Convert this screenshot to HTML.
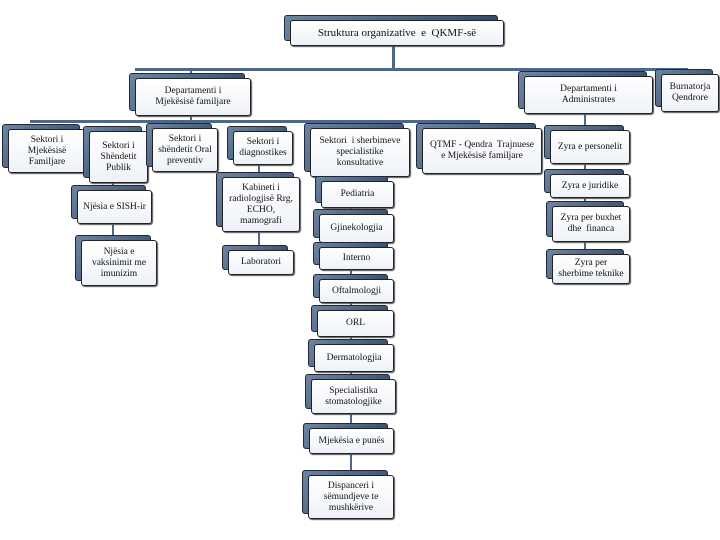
<!DOCTYPE html>
<html><head><meta charset="utf-8"><style>
body{margin:0;width:720px;height:540px;background:#fff;position:relative;overflow:hidden;font-family:"Liberation Serif",serif;}
.b{position:absolute;}
.bk{position:absolute;background:linear-gradient(135deg,#6d84a3,#2e4462);border-radius:3px;border:1px solid #1e2a3a;}
.fr{position:absolute;background:linear-gradient(180deg,#ffffff,#eef2f8);border:1px solid #222;border-radius:3px;box-shadow:1px 1px 1px #555;display:flex;align-items:center;justify-content:center;text-align:center;font-size:9.5px;line-height:11px;color:#111;}
.l{position:absolute;background:#4d6888;}
</style></head><body>
<div class="l" style="left:392px;top:44px;width:3px;height:26px"></div>
<div class="l" style="left:135px;top:68px;width:553px;height:3px"></div>
<div class="l" style="left:190px;top:68px;width:2px;height:10px"></div>
<div class="l" style="left:586px;top:68px;width:2px;height:8px"></div>
<div class="l" style="left:686px;top:68px;width:2px;height:6px"></div>
<div class="l" style="left:190px;top:114px;width:2px;height:8px"></div>
<div class="l" style="left:30px;top:120px;width:450px;height:3px"></div>
<div class="l" style="left:584px;top:112px;width:2px;height:160px"></div>
<div class="l" style="left:112px;top:180px;width:2px;height:60px"></div>
<div class="l" style="left:258px;top:160px;width:2px;height:90px"></div>
<div class="l" style="left:350px;top:175px;width:2px;height:300px"></div>
<div id="c"></div>
<script>
var B=[
[290,20,212,24,"Struktura organizative&nbsp; e&nbsp; QKMF-së",11],
[135,78,114,36,"Departamenti i<br>Mjekësisë familjare"],
[524,76,127,36,"Departamenti i<br>Administrates"],
[661,74,56,36,"Burnatorja<br>Qendrore"],
[8,129,76,42,"Sektori i<br>Mjekësisë<br>Familjare"],
[89,131,57,50,"Sektori i<br>Shëndetit<br>Publik"],
[152,128,64,42,"Sektori i<br>shëndetit Oral<br>preventiv"],
[233,131,58,32,"Sektori i<br>diagnostikes"],
[310,128,98,47,"Sektori&nbsp; i sherbimeve<br>specialistike<br>konsultative"],
[422,128,118,44,"QTMF - Qendra&nbsp; Trajnuese<br>e Mjekësisë familjare"],
[550,130,78,32,"Zyra e personelit"],
[550,174,78,22,"Zyra e juridike"],
[552,206,76,34,"Zyra per buxhet<br>dhe&nbsp; financa"],
[552,254,76,28,"Zyra per<br>sherbime teknike"],
[77,190,73,32,"Njësia e SISH-ir"],
[81,240,74,44,"Njësia e<br>vaksinimit me<br>imunizim"],
[222,177,76,53,"Kabineti i<br>radiologjisë Rrg,<br>ECHO,<br>mamografi"],
[228,250,64,23,"Laboratori"],
[321,181,71,25,"Pediatria"],
[319,214,73,27,"Gjinekologjia"],
[319,247,73,21,"Interno"],
[319,279,73,22,"Oftalmologji"],
[317,310,75,25,"ORL"],
[314,344,78,26,"Dermatologjia"],
[311,379,83,33,"Specialistika<br>stomatologjike"],
[309,428,83,24,"Mjekësia e punës"],
[308,475,84,42,"Dispanceri i<br>sëmundjeve te<br>mushkërive"]];
var h="";
B.forEach(function(b){
h+='<div class="bk" style="left:'+(b[0]-6)+'px;top:'+(b[1]-5)+'px;width:'+(b[2])+'px;height:'+(b[3])+'px"></div>';
h+='<div class="fr" style="left:'+b[0]+'px;top:'+b[1]+'px;width:'+b[2]+'px;height:'+b[3]+'px;'+(b[5]?'font-size:'+b[5]+'px;':'')+'">'+b[4]+'</div>';
});
document.getElementById("c").innerHTML=h;
</script>
</body></html>
